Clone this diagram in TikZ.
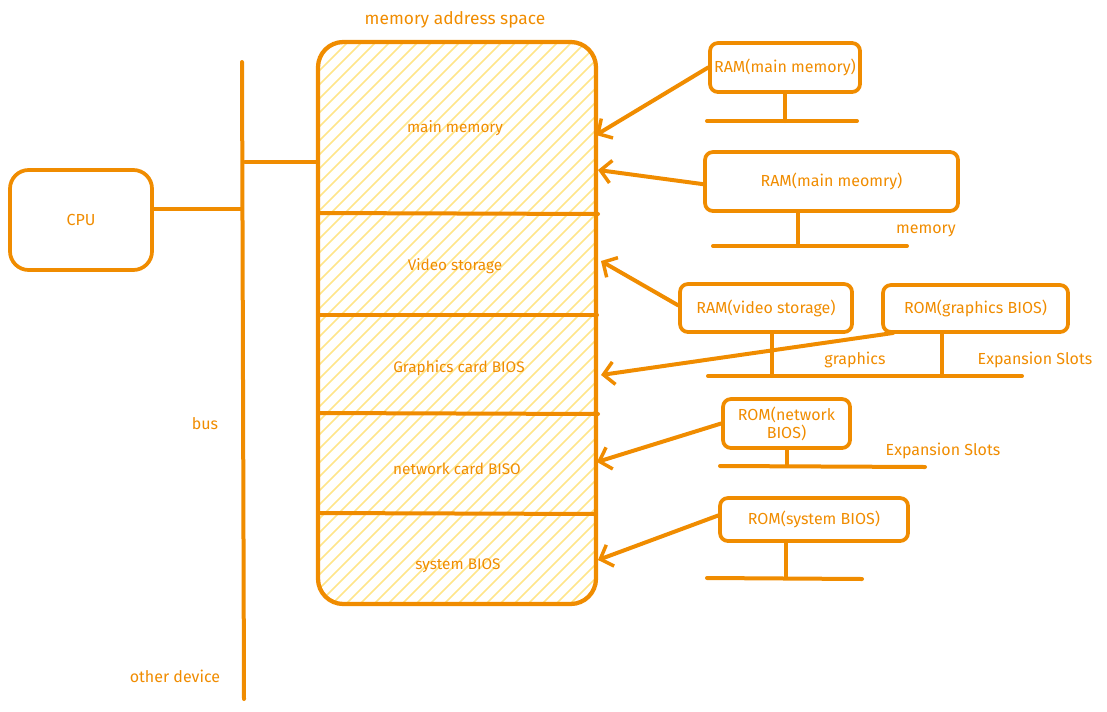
\documentclass[tikz,border=0pt]{standalone}
\usepackage{fontspec}
\setmainfont{Fira Sans}
\usetikzlibrary{arrows.meta}
\definecolor{ora}{HTML}{F08C00}
\definecolor{hatchy}{HTML}{FFE58A}
\begin{document}
\begin{tikzpicture}[x=0.75pt,y=-0.75pt, line cap=round, line join=round,
  wire/.style={draw=ora, line width=3pt},
  arr/.style={wire, -{Straight Barb[length=8pt,width=17pt,line width=2.6pt]}},
  box/.style={draw=ora, line width=2.8pt, rounded corners=6pt, inner sep=1pt,
    text=ora, align=center, font=\fontsize{12}{13.5}\selectfont},
  lbl/.style={text=ora, inner sep=0pt, font=\fontsize{12}{14}\selectfont},
  memstyle/.style={draw=ora, line width=3.2pt, rounded corners=19pt, inner sep=0pt,
    minimum width=278*0.75pt, minimum height=562*0.75pt,
    path picture={\foreach \i in {-44,...,22}
      \draw[hatchy, line width=1.1pt] ([xshift=\i*10.5pt]path picture bounding box.south west) -- ++(480pt,480pt);}}
  ]
\useasboundingbox (0,0) rectangle (1107,711);

% memory block
\node[memstyle] (mem) at (457,323) {};
\coordinate (d1l) at (318,213); \coordinate (d1r) at (598,214);
\coordinate (d2l) at (318,315); \coordinate (d2r) at (597,315);
\coordinate (d3l) at (318,413); \coordinate (d3r) at (598,414);
\coordinate (d4l) at (318,513); \coordinate (d4r) at (596,514);
\draw[wire] (d1l) -- (d1r);
\draw[wire] (d2l) -- (d2r);
\draw[wire] (d3l) -- (d3r);
\draw[wire] (d4l) -- (d4r);

\node[lbl, font=\fontsize{13}{15}\selectfont] (title) at (455,20) {memory address space};
\node[lbl, font=\fontsize{11.5}{13}\selectfont] (lmain) at (455,128) {main memory};
\node[lbl, font=\fontsize{11.5}{13}\selectfont] (lvideo) at (455,266) {Video storage};
\node[lbl, font=\fontsize{11.5}{13}\selectfont] (lgfx) at (459,368) {Graphics card BIOS};
\node[lbl, font=\fontsize{11.5}{13}\selectfont] (lnet) at (457,469) {network card BISO};
\node[lbl, font=\fontsize{11.5}{13}\selectfont] (lsys) at (458,566) {system BIOS};

% bus and cpu
\coordinate (bustop) at (242,62);
\coordinate (busbot) at (244,699);
\draw[wire] (bustop) -- (busbot);
\node[box, rounded corners=14pt, minimum width=142*0.75pt, minimum height=100*0.75pt] (cpu) at (81,220) {CPU};
\coordinate (cpubus) at (242,209);
\draw[wire] (cpu.east |- cpubus) -- (cpubus);
\coordinate (membus) at (245,162);
\coordinate (memin) at (318,162);
\draw[wire] (membus) -- (memin);
\node[lbl] (lbus) at (205,424) {bus};
\node[lbl] (lother) at (175,676) {other device};

% right side boxes
\node[box, minimum width=150*0.75pt, minimum height=49*0.75pt] (ram1) at (785,67.5) {RAM(main memory)};
\node[box, minimum width=253*0.75pt, minimum height=59*0.75pt] (ram2) at (831.5,181.5) {RAM(main meomry)};
\node[box, minimum width=172*0.75pt, minimum height=48*0.75pt] (ramv) at (766,308) {RAM(video storage)};
\node[box, minimum width=185*0.75pt, minimum height=47*0.75pt] (romg) at (975.5,308.5) {ROM(graphics BIOS)};
\node[box, minimum width=127*0.75pt, minimum height=49*0.75pt] (romn) at (786.5,423.5) {ROM(network\\BIOS)};
\node[box, minimum width=188*0.75pt, minimum height=43*0.75pt] (roms) at (814,519.5) {ROM(system BIOS)};

% slot lines
\coordinate (b1l) at (707,121); \coordinate (b1r) at (857,121);
\draw[wire] (b1l) -- (b1r);
\draw[wire] (ram1.south) -- (ram1.south |- b1l);
\coordinate (b2l) at (713,246); \coordinate (b2r) at (907,246);
\coordinate (s2) at (798,246);
\draw[wire] (b2l) -- (b2r);
\draw[wire] (ram2.south -| s2) -- (s2);
\node[lbl] (lmem) at (926,231) {memory};

\coordinate (b3l) at (708,376); \coordinate (b3r) at (1022,376);
\coordinate (s3) at (772,376); \coordinate (s4) at (942,376);
\draw[wire] (b3l) -- (b3r);
\draw[wire] (ramv.south -| s3) -- (s3);
\draw[wire] (romg.south -| s4) -- (s4);
\node[lbl] (lgr) at (855,360) {graphics};
\node[lbl] (lexp1) at (1035,360) {Expansion Slots};

\coordinate (b5l) at (720,466); \coordinate (b5r) at (925,467);
\draw[wire] (b5l) -- (b5r);
\draw[wire] (romn.south) -- (romn.south |- b5l);
\node[lbl] (lexp2) at (943,451) {Expansion Slots};

\coordinate (b6l) at (707,578); \coordinate (b6r) at (862,579);
\coordinate (s6) at (786,578);
\draw[wire] (b6l) -- (b6r);
\draw[wire] (roms.south -| s6) -- (s6);

% arrows into memory
\coordinate (m1) at (596,135);
\coordinate (m2) at (598,170);
\coordinate (m3) at (601,261);
\coordinate (m4) at (601,375);
\coordinate (m5) at (597,462);
\coordinate (m6) at (598,560);
\coordinate (g4) at (893,333);
\draw[arr] (ram1.west) -- (m1);
\draw[arr] ([yshift=-2pt]ram2.west) -- (m2);
\draw[arr] ([yshift=2pt]ramv.west) -- (m3);
\draw[arr] (g4) -- (m4);
\draw[arr] (romn.west) -- (m5);
\draw[arr] ([yshift=3pt]roms.west) -- (m6);
\end{tikzpicture}
\end{document}
